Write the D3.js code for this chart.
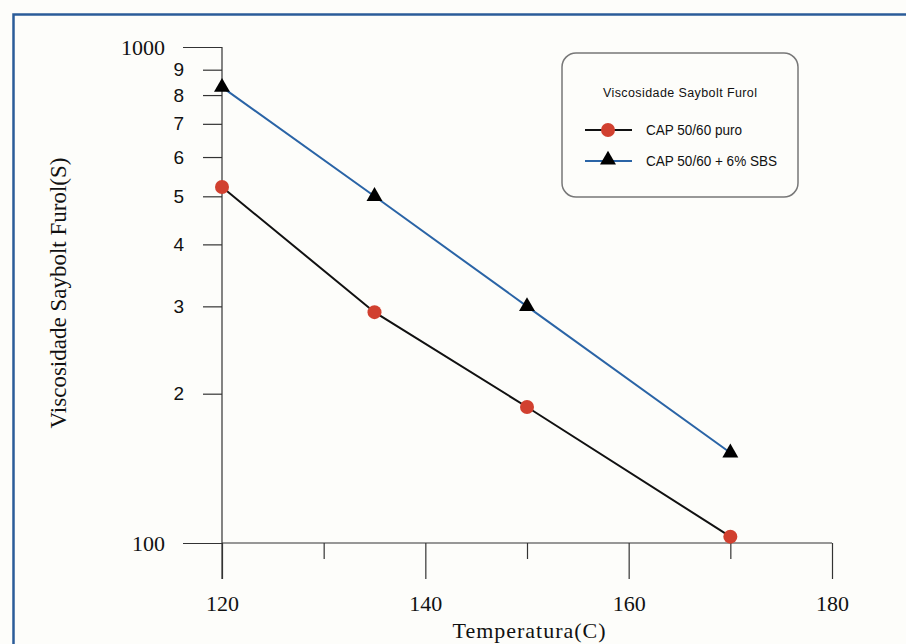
<!DOCTYPE html>
<html>
<head>
<meta charset="utf-8">
<script src="https://cdn.jsdelivr.net/npm/d3@7"></script>
<style>
  html, body { margin: 0; padding: 0; background: #fdfdfa; }
  svg { display: block; }
</style>
</head>
<body>
<script>
// Saybolt Furol viscosity versus temperature, log scale
const temperatures = [120, 135, 150, 170];
const capPuro = [522, 292, 188, 103];
const capSbs = [830, 500, 300, 152];
const seriesNames = ["CAP 50/60 puro", "CAP 50/60 + 6% SBS"];
const legendTitle = "Viscosidade Saybolt Furol";
const xLabel = "Temperatura(C)";
const yLabel = "Viscosidade Saybolt Furol(S)";
const xMajorTicks = [120, 140, 160, 180];
const xMinorTicks = [130, 150, 170];
const yMajorTicks = [100, 1000];
const yMinorTicks = [200, 300, 400, 500, 600, 700, 800, 900];
const yMinorLabels = ["2", "3", "4", "5", "6", "7", "8", "9"];

const W = 906, H = 644;
const svg = d3.select("body").append("svg").attr("width", W).attr("height", H);

svg.append("rect").attr("width", W).attr("height", H).attr("fill", "#fdfdfa");

// blue frame (top and left edges visible)
svg.append("path")
  .attr("d", `M13.5,${H} L13.5,14.5 L${W},14.5`)
  .attr("fill", "none").attr("stroke", "#2b5c99").attr("stroke-width", 2.5);

const x = d3.scaleLinear().domain([120, 180]).range([222, 832]);
const y = d3.scaleLog().domain([100, 1000]).range([543, 47]);

const serif = "'Liberation Serif', 'Times New Roman', serif";
const sans = "'Liberation Sans', Arial, sans-serif";

function styleAxis(g, font, size) {
  g.attr("font-size", null).attr("font-family", null);
  g.selectAll("line").attr("stroke", "#333").attr("stroke-width", 1.2);
  g.selectAll("text").attr("font-family", font).attr("font-size", size).attr("fill", "#111");
  g.select("path.domain").remove();
}

// y axis: major ticks with serif labels
const yMaj = svg.append("g").attr("transform", "translate(222,0)")
  .call(d3.axisLeft(y).tickValues(yMajorTicks).tickSize(39).tickPadding(18)
    .tickFormat(d3.format("d")));
styleAxis(yMaj, serif, 22);

// y axis: minor ticks with sans labels
const yMin = svg.append("g").attr("transform", "translate(222,0)")
  .call(d3.axisLeft(y).tickValues(yMinorTicks).tickSize(19).tickPadding(19)
    .tickFormat((d, i) => yMinorLabels[i]));
styleAxis(yMin, sans, 19);

// vertical axis line reaching down to the 120 tick end
svg.append("line").attr("x1", 222).attr("x2", 222).attr("y1", y(1000)).attr("y2", 579)
  .attr("stroke", "#333").attr("stroke-width", 1.2);

// x axis on the 100 line
const xMaj = svg.append("g").attr("transform", `translate(0,${y(100)})`)
  .call(d3.axisBottom(x).tickValues(xMajorTicks).tickSize(36).tickPadding(16)
    .tickFormat(d3.format("d")));
styleAxis(xMaj, serif, 22);
const xMin = svg.append("g").attr("transform", `translate(0,${y(100)})`)
  .call(d3.axisBottom(x).tickValues(xMinorTicks).tickSize(16).tickFormat(""));
styleAxis(xMin, serif, 22);
svg.append("line").attr("x1", 222).attr("x2", x(180)).attr("y1", y(100)).attr("y2", y(100))
  .attr("stroke", "#333").attr("stroke-width", 1.2);

// axis titles
svg.append("text").attr("x", 529).attr("y", 638).attr("text-anchor", "middle")
  .attr("font-family", serif).attr("font-size", 22).attr("fill", "#111")
  .attr("textLength", 153).attr("lengthAdjust", "spacing").text(xLabel);
svg.append("text").attr("transform", "translate(66,293) rotate(-90)").attr("text-anchor", "middle")
  .attr("font-family", serif).attr("font-size", 23).attr("fill", "#111").text(yLabel);

// series lines
const line = d3.line().x((d, i) => x(temperatures[i])).y(d => y(d));
svg.append("path").datum(capSbs).attr("d", line)
  .attr("fill", "none").attr("stroke", "#2a64a6").attr("stroke-width", 2);
svg.append("path").datum(capPuro).attr("d", line)
  .attr("fill", "none").attr("stroke", "#111").attr("stroke-width", 2);

const tri = d3.symbol().type(d3.symbolTriangle).size(110);
svg.selectAll("path.tri").data(capSbs).enter().append("path").attr("class", "tri")
  .attr("d", tri)
  .attr("transform", (d, i) => `translate(${x(temperatures[i])},${y(d)})`)
  .attr("fill", "#000");
svg.selectAll("circle.pt").data(capPuro).enter().append("circle").attr("class", "pt")
  .attr("cx", (d, i) => x(temperatures[i])).attr("cy", d => y(d)).attr("r", 7)
  .attr("fill", "#d1402f");

// legend
const lg = svg.append("g");
lg.append("rect").attr("x", 562).attr("y", 53).attr("width", 236).attr("height", 144)
  .attr("rx", 14).attr("ry", 14).attr("fill", "none").attr("stroke", "#777").attr("stroke-width", 1.5);
lg.append("text").attr("x", 680).attr("y", 97).attr("text-anchor", "middle")
  .attr("font-family", sans).attr("font-size", 12.5).attr("fill", "#111")
  .attr("textLength", 154).attr("lengthAdjust", "spacing").text(legendTitle);

const rows = [
  { name: seriesNames[0], color: "#111", y: 130, marker: "circle" },
  { name: seriesNames[1], color: "#2a64a6", y: 161, marker: "tri" }
];
rows.forEach(r => {
  lg.append("line").attr("x1", 585).attr("x2", 632).attr("y1", r.y).attr("y2", r.y)
    .attr("stroke", r.color).attr("stroke-width", 2);
  if (r.marker === "circle") {
    lg.append("circle").attr("cx", 608).attr("cy", r.y).attr("r", 7).attr("fill", "#d1402f");
  } else {
    lg.append("path").attr("d", tri).attr("transform", `translate(608,${r.y - 1})`).attr("fill", "#000");
  }
  lg.append("text").attr("x", 646).attr("y", r.y + 5)
    .attr("font-family", sans).attr("font-size", 14).attr("fill", "#111")
    .attr("textLength", r.marker === "circle" ? 96 : 131).attr("lengthAdjust", "spacingAndGlyphs")
    .text(r.name);
});
</script>
</body>
</html>
